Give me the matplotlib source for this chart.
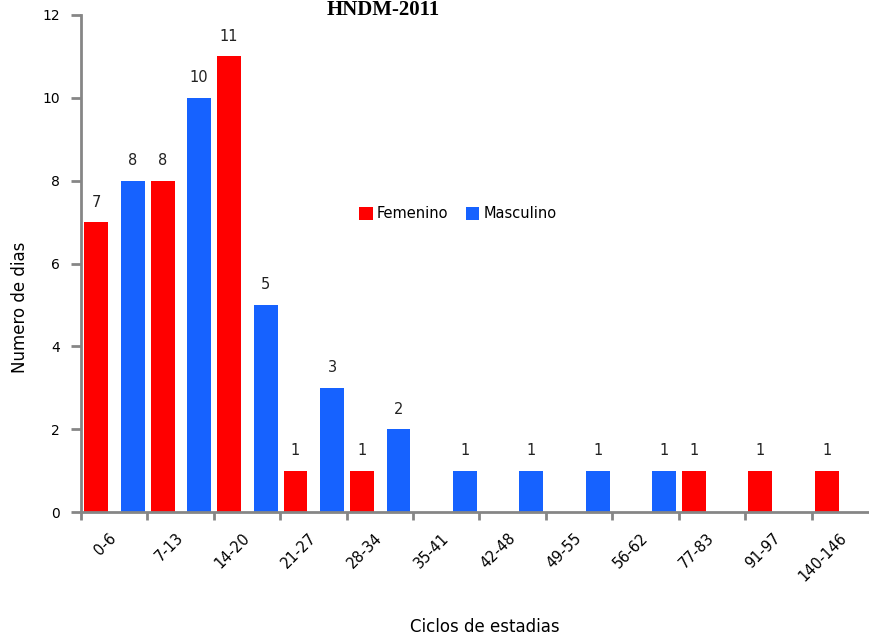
import matplotlib
matplotlib.use("Agg")
import matplotlib.pyplot as plt
import numpy as np

categorias = ["0-6", "7-13", "14-20", "21-27", "28-34", "35-41", "42-48",
              "49-55", "56-62", "77-83", "91-97", "140-146"]
femenino = [7, 8, 11, 1, 1, 0, 0, 0, 0, 1, 1, 1]
masculino = [8, 10, 5, 3, 2, 1, 1, 1, 1, 0, 0, 0]

rojo = "#ff0000"
azul = "#1662ff"
gris = "#868686"

plt.rcParams['font.family'] = ['DejaVu Sans']

fig = plt.figure(figsize=(8.69, 6.38), dpi=100)
# el eje se sale un poco por la derecha de la figura
ax = fig.add_axes([81 / 869, 1 - 512 / 638, 797 / 869, 497 / 638])

x = np.arange(len(categorias)) + 0.5
ancho = 0.36
b1 = ax.bar(x - 0.27, femenino, ancho, color=rojo, label="Femenino", linewidth=0)
b2 = ax.bar(x + 0.28, masculino, ancho, color=azul, label="Masculino", linewidth=0)

for barras, vals in ((b1, femenino), (b2, masculino)):
    for b, v in zip(barras, vals):
        if v == 0:
            continue
        ax.annotate(str(v), (b.get_x() + b.get_width() / 2, v),
                    xytext=(0, 9), textcoords="offset points",
                    ha="center", va="bottom", fontsize=10.5, color="#222222")

ax.set_xlim(0, len(categorias))
ax.set_ylim(0, 12)
ax.set_yticks(range(0, 13, 2))

# marcas en los limites de cada categoria, etiquetas en el centro
ax.set_xticks(range(len(categorias) + 1))
ax.set_xticklabels([])
ax.set_xticks(x, minor=True)
ax.set_xticklabels(categorias, minor=True)
ax.tick_params(axis="x", which="minor", length=0, pad=17, labelsize=10.5)
ax.tick_params(axis="x", which="major", length=6, width=2, color=gris, direction="out")
ax.tick_params(axis="y", length=7, width=2, color=gris, direction="out", labelsize=10, pad=8)
for t in ax.get_xticklabels(minor=True):
    t.set_rotation(45)
    t.set_ha("right")
    t.set_va("center")
    t.set_rotation_mode("anchor")

for s in ("top", "right"):
    ax.spines[s].set_visible(False)
for s in ("left", "bottom"):
    ax.spines[s].set_color(gris)
    ax.spines[s].set_linewidth(2)

fig.text(20 / 869, 1 - 307 / 638, "Numero de dias", fontsize=12,
         rotation=90, ha="center", va="center")
fig.text(485 / 869, 1 - 627 / 638, "Ciclos de estadias", fontsize=12,
         ha="center", va="center")

fig.text(383 / 869, 1 - 15 / 638, "HNDM-2011", fontsize=15, fontweight="bold",
         family="Liberation Serif", ha="center", va="baseline")

ax.legend(loc="center", bbox_to_anchor=(458 / 869, 1 - 214 / 638),
          bbox_transform=fig.transFigure, ncol=2, frameon=False, fontsize=10.5,
          handlelength=0.9, handleheight=0.9, handletextpad=0.3, columnspacing=1.2)

fig.savefig("out.png", dpi=100)
